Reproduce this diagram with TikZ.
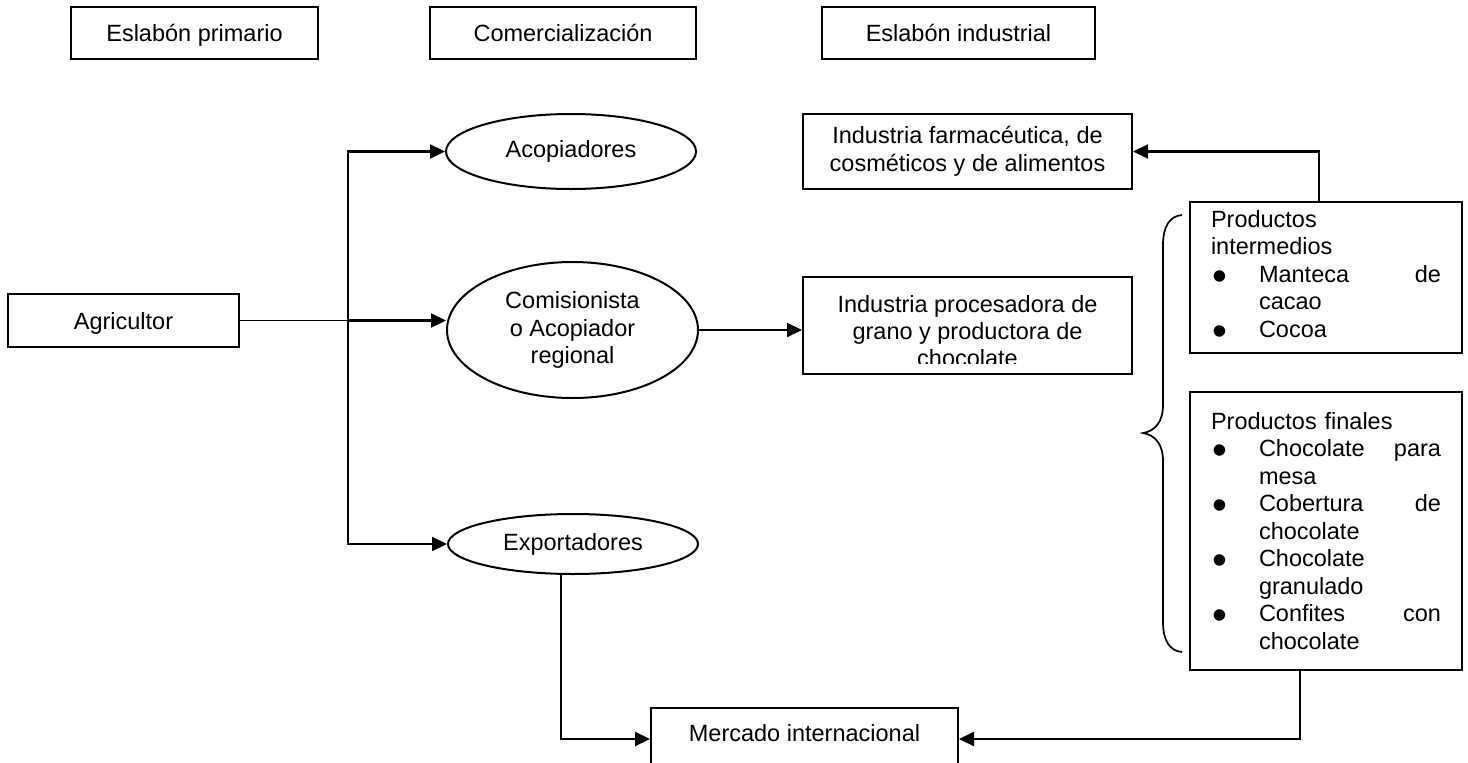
\documentclass[tikz,border=0pt]{standalone}
\usepackage{graphicx}
\usepackage{fontspec}
\setmainfont{Liberation Sans}
\usetikzlibrary{arrows.meta,shapes.geometric}
\newcommand{\fsz}{\fontsize{23.5pt}{27.5pt}\selectfont}
\newcommand{\bul}{\makebox[48pt][l]{\hspace{1pt}\raisebox{-8pt}{\scalebox{1.8}{\textbullet}}}}
\newcommand{\ind}{\hspace*{48pt}}
\begin{document}
\begin{tikzpicture}[x=1pt,y=-1pt,font=\fsz,
  box/.style={draw,line width=2pt,inner sep=0pt,rectangle},
  one/.style={text height=17pt,text depth=0pt},
  ell/.style={draw,line width=2pt,ellipse,inner sep=0pt,align=center},
  arr/.style={line width=2.2pt,-{Triangle[length=15pt,width=14pt]}},
  ln/.style={line width=2.2pt}]
\useasboundingbox (0,0) rectangle (1468,763);
\clip (0,0) rectangle (1468,763);
% header boxes
\node[box,one,minimum width=247pt,minimum height=52pt] (h1) at (194.5,33) {Eslabón primario};
\node[box,one,minimum width=266pt,minimum height=52pt] (h2) at (563,33) {Comercialización};
\node[box,one,minimum width=273pt,minimum height=52pt] (h3) at (958.5,33) {Eslabón industrial};
% left
\node[box,one,minimum width=231pt,minimum height=53pt] (agr) at (123.5,320.5) {Agricultor};
% ellipses
\node[ell,minimum width=250pt,minimum height=75pt] (acop) at (571,151.5) {Acopiadores};
\node[ell,minimum width=251pt,minimum height=136pt] (comis) at (572.5,330) {Comisionista\\o Acopiador\\regional};
\node[ell,minimum width=250pt,minimum height=60pt] (expo) at (573,544) {Exportadores};
% industry boxes
\node[box,align=center,minimum width=329pt,minimum height=75pt] (farm) at (967.5,151.5) {Industria farmacéutica, de\\cosméticos y de alimentos};
\node[box,minimum width=329pt,minimum height=97pt] (proc) at (967.5,325.5) {};
\begin{scope}
\clip (803,277) rectangle (1132,363);
\node[anchor=north,inner sep=0pt,align=center,font={\fontsize{23.5pt}{27pt}\selectfont}] (proct) at (967.5,295) {Industria procesadora de\\grano y productora de\\chocolate};
\end{scope}
% products
\node[box,align=left,text width=230pt,minimum width=272pt,minimum height=151pt] (pint) at (1326,277.5)
  {Productos\\intermedios\\\bul\hbox to 182pt{Manteca\hfill de}\\\ind cacao\\\bul Cocoa};
\node[box,align=left,text width=230pt,minimum width=272pt,minimum height=278pt] (pfin) at (1326,531)
  {Productos finales\\\bul\hbox to 182pt{Chocolate\hfill para}\\\ind mesa\\\bul\hbox to 182pt{Cobertura\hfill de}\\\ind chocolate\\\bul Chocolate\\\ind granulado\\\bul\hbox to 182pt{Confites\hfill con}\\\ind chocolate};
% market
\node[box,minimum width=307pt,minimum height=62pt] (merc) at (804.5,739) {};
\node[one,inner sep=0pt] (mercl) at (804.5,733) {Mercado internacional};
% brace
\draw[line width=1.7pt] (1182,215) .. controls (1170,216) and (1163,226) .. (1163,245) -- (1163,405)
  .. controls (1163,422) and (1155,431) .. (1143,433)
  .. controls (1155,435) and (1163,444) .. (1163,461) -- (1163,622)
  .. controls (1163,641) and (1170,651) .. (1182,652);
% connectors
\coordinate (vx) at (348,0);
\draw[line width=1.5pt] (agr.east) -- (agr.east -| vx);
\draw[arr] (agr.east -| vx) -- (agr.east -| comis.west);
\draw[arr,line cap=rect] (expo.west -| vx) -- (acop.west -| vx) -- (acop.west);
\draw[arr] (expo.west -| vx) -- (expo.west);
\draw[arr] (comis.east) -- (comis.east -| proc.west);
\draw[arr] ([xshift=-7pt]pint.north) |- (farm.east);
\draw[arr] ([xshift=-26pt]pfin.south) |- (merc.east);
\draw[arr] ([xshift=-12pt]expo.south) |- (merc.west);
\end{tikzpicture}
\end{document}
